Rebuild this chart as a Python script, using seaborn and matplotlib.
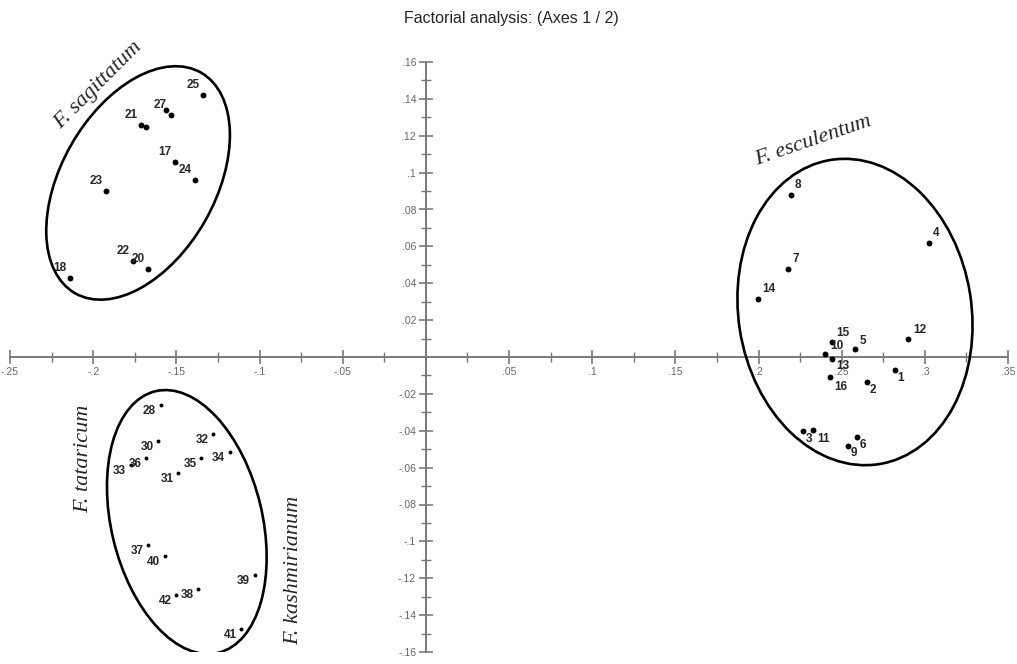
import matplotlib
matplotlib.use("Agg")
import pandas as pd
import seaborn as sns
import matplotlib.pyplot as plt
from matplotlib.patches import Ellipse
from matplotlib.transforms import ScaledTranslation
from matplotlib.ticker import MultipleLocator, FuncFormatter

# --- data: accession scores on factorial axes 1 and 2 ---
esc_ids = ["1", "2", "3", "4", "5", "6", "7", "8", "9", "10", "11", "12", "13", "14", "15", "16"]
esc_x = [0.282, 0.265, 0.2266, 0.3028, 0.258, 0.259, 0.218, 0.2194, 0.2536, 0.240, 0.2326, 0.290, 0.244, 0.1996, 0.244, 0.243]
esc_y = [-0.007, -0.0136, -0.040, 0.0618, 0.0043, -0.0434, 0.0477, 0.0879, -0.048, 0.0016, -0.0396, 0.0098, -0.001, 0.0315, 0.008, -0.011]

sag_ids = ["17", "18", "19", "20", "21", "22", "23", "24", "25", "26", "27"]
sag_x = [-0.151, -0.214, -0.168, -0.167, -0.171, -0.176, -0.192, -0.139, -0.1337, -0.156, -0.1535]
sag_y = [0.106, 0.043, 0.125, 0.048, 0.126, 0.052, 0.090, 0.096, 0.142, 0.134, 0.131]
sag_hidden = ["19", "26"]  # labels hidden under neighbours in the original

tat_ids = ["28", "30", "31", "32", "33", "34", "35", "36", "37", "38", "39", "40", "41", "42"]
tat_x = [-0.1595, -0.161, -0.149, -0.128, -0.1775, -0.118, -0.135, -0.168, -0.167, -0.137, -0.103, -0.157, -0.111, -0.150]
tat_y = [-0.026, -0.0456, -0.063, -0.042, -0.0586, -0.0515, -0.055, -0.055, -0.102, -0.126, -0.118, -0.108, -0.1475, -0.129]

species = ["F. esculentum", "F. sagittatum", "F. tataricum", "F. kashmirianum"]

esc = pd.DataFrame({"id": esc_ids, "axis1": esc_x, "axis2": esc_y, "group": "esc"})
sag = pd.DataFrame({"id": sag_ids, "axis1": sag_x, "axis2": sag_y, "group": "sag"})
tat = pd.DataFrame({"id": tat_ids, "axis1": tat_x, "axis2": tat_y, "group": "tat"})

sns.set_style("white")
plt.rcParams["font.family"] = ["Liberation Sans", "DejaVu Sans"]

fig = plt.figure(figsize=(10.17, 6.64), dpi=100)
ax = fig.add_axes([10 / 1017, 12 / 664, 998 / 1017, 590 / 664])

sns.scatterplot(data=pd.concat([esc, sag]), x="axis1", y="axis2", color="black",
                s=18, linewidth=0, legend=False, ax=ax, zorder=3)
sns.scatterplot(data=tat, x="axis1", y="axis2", color="black",
                s=8, linewidth=0, legend=False, ax=ax, zorder=3)

# point labels (offsets in pixels)
lab = dict(ha="center", va="center", fontsize=8.5, fontweight="bold", textcoords="offset pixels")
esc_off = {"10": (12, 8), "15": (11, 9), "5": (8, 8), "14": (11, 10), "12": (12, 9),
           "13": (11, -7), "16": (11, -10), "11": (11, -9)}
for _, r in esc.iterrows():
    off = esc_off.get(r["id"], (7, 10) if r["axis2"] > 0 else (6, -8))
    ax.annotate(r["id"], (r["axis1"], r["axis2"]), xytext=off, **lab)
for _, r in sag.iterrows():
    if r["id"] in sag_hidden:
        continue
    ax.annotate(r["id"], (r["axis1"], r["axis2"]), xytext=(-10, 10), **lab)
for _, r in tat.iterrows():
    ax.annotate(r["id"], (r["axis1"], r["axis2"]), xytext=(-11, -6), **lab)

# group ellipses: centre in data units, size in pixels
for cx, cy, w, h, ang in [(-0.173, 0.0944, 154, 254, -29.7),
                          (0.258, 0.0244, 233, 308, 9),
                          (-0.1437, -0.0895, 151, 269, 13.5)]:
    tr = fig.dpi_scale_trans + ScaledTranslation(cx, cy, ax.transData)
    ax.add_patch(Ellipse((0, 0), w / 100, h / 100, angle=ang, transform=tr,
                         fill=False, edgecolor="black", lw=1.9, zorder=4))

# species names
sp = dict(family="Liberation Serif", style="italic", fontsize=16, ha="center", va="center")
fig.text(813 / 1017, 1 - 141 / 664, species[0], rotation=19, **sp)
fig.text(98 / 1017, 1 - 85 / 664, species[1], rotation=45, **sp)
fig.text(84 / 1017, 1 - 459 / 664, species[2], rotation=90, **sp)
fig.text(294 / 1017, 1 - 570 / 664, species[3], rotation=90, **sp)

# cross-shaped axes through the origin
ax.set_xlim(-0.25, 0.35)
ax.set_ylim(-0.16, 0.16)
for side in ["top", "right"]:
    ax.spines[side].set_visible(False)
for side in ["left", "bottom"]:
    ax.spines[side].set_position(("data", 0))
    ax.spines[side].set_color("#7a7a7a")
    ax.spines[side].set_linewidth(1.4)

ax.xaxis.set_major_locator(MultipleLocator(0.05))
ax.xaxis.set_minor_locator(MultipleLocator(0.025))
ax.yaxis.set_major_locator(MultipleLocator(0.02))
ax.yaxis.set_minor_locator(MultipleLocator(0.01))


def short(v, pos):
    if abs(v) < 1e-9:
        return ""
    s = f"{v:.2f}".rstrip("0").rstrip(".")
    return s.replace("0.", ".")


ax.xaxis.set_major_formatter(FuncFormatter(short))
ax.yaxis.set_major_formatter(FuncFormatter(short))
ax.tick_params(which="both", bottom=True, left=True, top=False, right=False)
ax.tick_params(which="major", direction="inout", length=10, width=1.2, color="#7a7a7a",
               labelsize=7.5, labelcolor="#666666", pad=2)
ax.tick_params(which="minor", direction="inout", length=7, width=1.0, color="#7a7a7a")
ax.set_xlabel("")
ax.set_ylabel("")

fig.text(511 / 1017, 1 - 18 / 664, "Factorial analysis: (Axes 1 / 2)", ha="center", va="center",
         fontsize=11.5)

fig.savefig("out.png", dpi=100)
